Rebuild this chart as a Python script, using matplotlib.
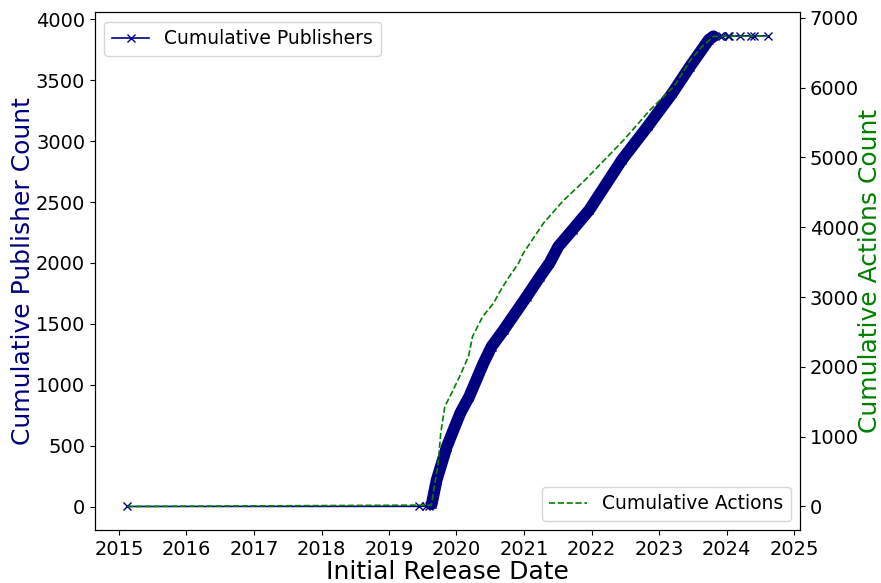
import matplotlib
matplotlib.use("Agg")
import matplotlib.pyplot as plt
import matplotlib.dates as mdates
import pandas as pd

# Cumulative count of distinct publishers by initial release date
pub_dates = [
    "2015-02-14", "2019-06-14", "2019-07-20", "2019-08-07", "2019-08-20",
    "2019-09-16", "2019-11-10", "2020-01-22", "2020-03-10", "2020-05-26",
    "2020-07-09", "2020-09-13", "2021-01-15", "2021-03-28", "2021-05-18",
    "2021-07-05", "2021-09-20", "2021-12-20", "2022-06-14", "2022-10-31",
    "2023-03-14", "2023-06-17", "2023-09-27", "2023-10-22", "2023-11-25",
    "2023-12-09", "2024-01-08", "2024-01-15", "2024-03-14", "2024-05-12",
    "2024-05-30", "2024-08-12",
]
pub_counts = [
    1, 2, 4, 8, 20,
    219, 493, 769, 903, 1177,
    1314, 1451, 1724, 1888, 1998,
    2135, 2272, 2436, 2846, 3120,
    3394, 3612, 3832, 3860, 3861,
    3862, 3862, 3863, 3863, 3864,
    3864, 3864,
]

# Cumulative count of published actions
act_dates = [
    "2015-02-14", "2019-08-18", "2019-09-24", "2019-10-08", "2019-10-30",
    "2019-12-06", "2020-01-18", "2020-03-06", "2020-03-28", "2020-05-22",
    "2020-07-20", "2020-08-18", "2020-10-01", "2020-12-02", "2020-12-28",
    "2021-02-14", "2021-04-16", "2021-07-31", "2021-11-28", "2022-06-25",
    "2022-11-14", "2023-03-22", "2023-06-21", "2023-08-22", "2023-10-22",
    "2024-08-12",
]
act_counts = [
    0, 20, 622, 1052, 1433,
    1625, 1862, 2149, 2436, 2722,
    2914, 3057, 3248, 3487, 3630,
    3821, 4060, 4380, 4681, 5254,
    5683, 6017, 6400, 6590, 6734,
    6743,
]

pub_x = pd.to_datetime(pub_dates)
act_x = pd.to_datetime(act_dates)
pub_s = pd.Series(pub_counts, index=pub_x)

fig = plt.figure(figsize=(8.81, 5.83), dpi=100)
ax1 = fig.add_axes([0.1078, 0.0909, 0.8003, 0.8880])

# the growth period is packed with points, which merge into a solid band
growth = pub_s.loc["2019-08-20":"2023-10-22"]
ax1.plot(growth.index, growth.values, color="navy", linewidth=8.5,
         solid_joinstyle="round", solid_capstyle="round", zorder=2)
ax1.plot(pub_x, pub_counts, color="navy", marker="x", markersize=6,
         linewidth=1.2, label="Cumulative Publishers", zorder=3)

ax1.set_xlabel("Initial Release Date", fontsize=18, labelpad=1)
ax1.set_ylabel("Cumulative Publisher Count", fontsize=18, color="navy",
               labelpad=0.5)
ax1.tick_params(labelsize=14)
ax1.legend(loc="upper left", fontsize=13.5)

ax2 = ax1.twinx()
ax2.plot(act_x, act_counts, color="green", linestyle="--", linewidth=1.2,
         label="Cumulative Actions", zorder=4)
ax2.set_ylabel("Cumulative Actions Count", fontsize=18, color="green",
               labelpad=-1)
ax2.tick_params(labelsize=14)
ax2.legend(loc="lower right", fontsize=13.5)

ax1.xaxis.set_major_locator(mdates.YearLocator())
ax1.xaxis.set_major_formatter(mdates.DateFormatter("%Y"))

fig.savefig("out.png", dpi=100)
